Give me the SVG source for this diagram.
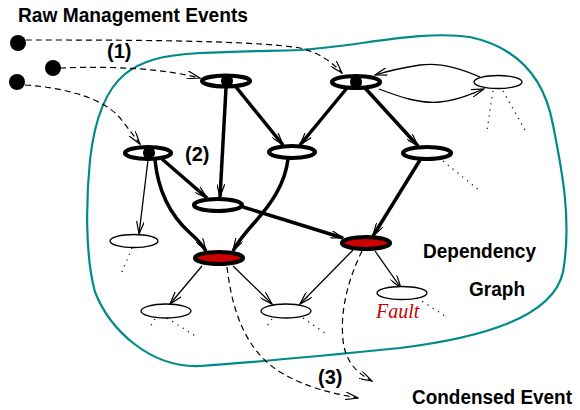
<svg xmlns="http://www.w3.org/2000/svg" width="580" height="410" viewBox="0 0 580 410">
<defs>
<style>
.lbl{font-family:"Liberation Sans",Arial,sans-serif;font-weight:bold;fill:#000}
.bold{fill:#fff;stroke:#000;stroke-width:4.2}
.red{fill:#cc0000;stroke:#000;stroke-width:4.2}
.thin{fill:#fff;stroke:#000;stroke-width:1.3}
.be{fill:none;stroke:#000;stroke-width:3.5;marker-end:url(#ah)}
.te{fill:none;stroke:#000;stroke-width:1.3;marker-end:url(#ah)}
.de{fill:none;stroke:#000;stroke-width:1.2;stroke-dasharray:6 4;marker-end:url(#ah)}
.dot{fill:none;stroke:#000;stroke-width:1.2;stroke-dasharray:1.2 5}
</style>
<marker id="ah" viewBox="0 0 14 8" refX="13" refY="4" markerWidth="14" markerHeight="8" markerUnits="userSpaceOnUse" orient="auto">
<path d="M0,0 L13,4 L0,8" fill="none" stroke="#000" stroke-width="1.2"/>
</marker>
</defs>
<rect width="580" height="410" fill="#fff"/>

<path id="boundary" d="M300,50 C360,46 420,30 470,37 C520,48 545,80 553,125 C562,170 572,220 563,272 C553,318 480,338 400,348 C330,355 260,362 200,366 C150,368 110,330 95,292 C85,255 86,200 90,160 C95,115 108,88 125,74 C140,62 160,55 200,53 C240,51 270,51 300,50 Z" fill="none" stroke="#008b8b" stroke-width="2.2"/>

<g id="texts">
<text class="lbl" x="18" y="22" font-size="20" textLength="230" lengthAdjust="spacingAndGlyphs">Raw Management Events</text>
<text class="lbl" x="107" y="58" font-size="20">(1)</text>
<text class="lbl" x="185" y="161" font-size="20">(2)</text>
<text class="lbl" x="318" y="384" font-size="20">(3)</text>
<text class="lbl" x="423" y="258" font-size="20" textLength="113" lengthAdjust="spacingAndGlyphs">Dependency</text>
<text class="lbl" x="469" y="296" font-size="20" textLength="56" lengthAdjust="spacingAndGlyphs">Graph</text>
<text class="lbl" x="412" y="404" font-size="20" textLength="160" lengthAdjust="spacingAndGlyphs">Condensed Event</text>
</g>

<g id="connectors">
<path class="de" d="M26,40 C120,40 250,40 300,48 C320,53 332,62 342,73"/>
<path class="de" d="M60,68 C110,66 160,68 200,78"/>
<path class="de" d="M25,85 C70,88 105,100 120,118 C128,128 134,136 140,144"/>

<path class="be" d="M236,87 L283,145"/>
<path class="be" d="M226,88 L220,197"/>
<path class="be" d="M347,88 L300,145"/>
<path class="be" d="M365,88 L418,146"/>
<path class="te" d="M480,77 C460,68 440,62 420,65 C400,68 385,72 375,75"/>
<path class="te" d="M379,89 C400,97 420,104 440,102 C460,100 470,94 484,89"/>
<path class="be" d="M288,159 C285,185 270,205 255,222 C245,233 238,242 233,251"/>
<path class="be" d="M420,160 L373,236"/>
<path class="be" d="M162,159 L207,198"/>
<path class="be" d="M155,160 C158,190 170,215 190,233 C198,240 203,246 206,251"/>
<path class="te" d="M148,160 L139,234"/>
<path class="be" d="M243,207 L343,238"/>
<path class="te" d="M202,266 L170,304"/>
<path class="te" d="M233,266 L272,304"/>
<path class="te" d="M353,250 L300,304"/>
<path class="te" d="M375,251 L401,288"/>

<path class="de" d="M227,267 C232,310 245,350 280,372 C305,387 330,393 358,398"/>
<path class="de" d="M362,251 C348,280 340,310 343,340 C345,360 355,372 372,381"/>

<path class="dot" d="M493,91 L487,130"/>
<path class="dot" d="M503,91 L525,130"/>
<path class="dot" d="M443,161 L480,191"/>
<path class="dot" d="M132,248 L121,274"/>
<path class="dot" d="M155,319 L150,327"/>
<path class="dot" d="M167,318 L197,337"/>
<path class="dot" d="M272,319 L265,329"/>
<path class="dot" d="M303,318 L325,333"/>
<path class="dot" d="M417,298 L448,318"/>
</g>

<g id="events">
<circle cx="18" cy="43" r="8" fill="#000"/>
<circle cx="53" cy="68" r="8" fill="#000"/>
<circle cx="17" cy="82" r="8" fill="#000"/>
</g>

<g id="nA"><ellipse class="bold" cx="226" cy="81" rx="24" ry="5.5"/><ellipse cx="227" cy="81" rx="6" ry="6.5" fill="#000"/></g>
<g id="nB"><ellipse class="bold" cx="356" cy="82" rx="24" ry="6"/><ellipse cx="356" cy="82" rx="6" ry="7" fill="#000"/></g>
<g id="nC"><ellipse class="thin" cx="498" cy="82" rx="24" ry="6.5"/></g>
<g id="nD"><ellipse class="bold" cx="292" cy="152" rx="23" ry="6"/></g>
<g id="nE"><ellipse class="bold" cx="427" cy="153" rx="24" ry="6"/></g>
<g id="nF"><ellipse class="bold" cx="148" cy="153" rx="23" ry="6"/><ellipse cx="149" cy="153" rx="6" ry="6.5" fill="#000"/></g>
<g id="nG"><ellipse class="bold" cx="218" cy="205" rx="24" ry="6"/></g>
<g id="nH"><ellipse class="red" cx="219" cy="258" rx="24" ry="6"/></g>
<g id="nI"><ellipse class="red" cx="366" cy="243" rx="24" ry="6"/></g>
<g id="nJ"><ellipse class="thin" cx="134" cy="241" rx="24" ry="6.5"/></g>
<g id="nK"><ellipse class="thin" cx="166" cy="311" rx="25" ry="7"/></g>
<g id="nL"><ellipse class="thin" cx="286" cy="311" rx="25" ry="7"/></g>
<g id="nM"><ellipse class="thin" cx="402" cy="293" rx="25" ry="6.5"/>
<text x="376" y="318" font-family="'Liberation Serif','Times New Roman',serif" font-style="italic" font-size="20" fill="#cc0000">Fault</text></g>
</svg>
